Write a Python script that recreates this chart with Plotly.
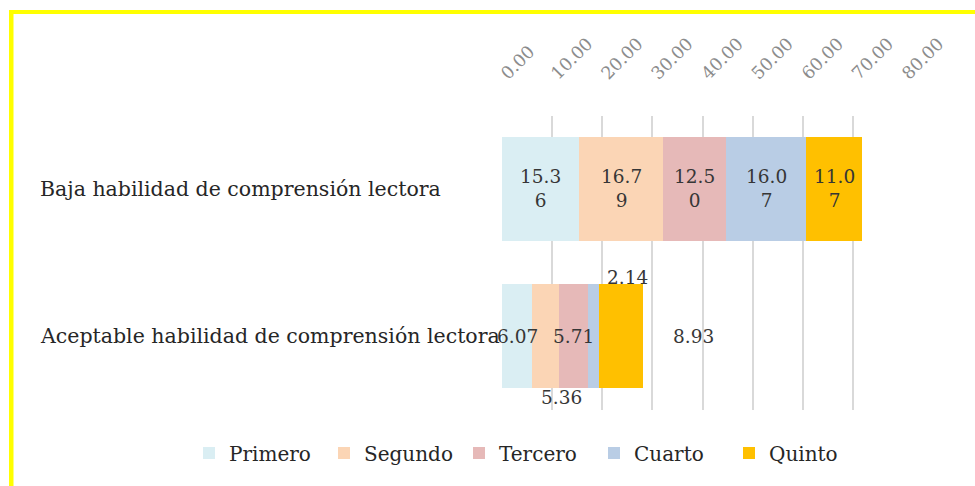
import plotly.graph_objects as go

# Data
categories = ["Baja habilidad de comprensión lectora",
              "Aceptable habilidad de comprensión lectora"]
series_names = ["Primero", "Segundo", "Tercero", "Cuarto", "Quinto"]
primero = [15.36, 6.07]
segundo = [16.79, 5.36]
tercero = [12.50, 5.71]
cuarto = [16.07, 2.14]
quinto = [11.07, 8.93]
tick_values = [0, 10, 20, 30, 40, 50, 60, 70, 80]

series_values = [primero, segundo, tercero, cuarto, quinto]
colors = ["#DAEEF3", "#FBD5B5", "#E6B9B8", "#B9CDE5", "#FFC000"]

FONT = "DejaVu Serif"
W, H = 975, 486

fig = go.Figure()
for name, vals, col in zip(series_names, series_values, colors):
    fig.add_trace(go.Bar(
        y=categories, x=vals, name=name, orientation="h",
        marker=dict(color=col, line=dict(width=0)),
        hoverinfo="x+name",
    ))

# Value labels: the wide bar gets wrapped labels centered in each segment,
# the narrow bar has some labels pushed around so they do not collide.
label_offsets = {  # (category index, series index): (xshift, yshift)
    (1, 1): (16, -61),
    (1, 3): (34, 59),
    (1, 4): (72, 0),
}
annotations = []
for ci, cat in enumerate(categories):
    start = 0.0
    for si, vals in enumerate(series_values):
        v = vals[ci]
        txt = f"{v:.2f}"
        if ci == 0:
            txt = txt[:4] + "<br>" + txt[4:]
        dx, dy = label_offsets.get((ci, si), (0, 0))
        annotations.append(dict(
            x=start + v / 2, y=cat, xref="x", yref="y",
            text=txt, showarrow=False, xshift=dx, yshift=dy,
            font=dict(family=FONT, size=18.5, color="#363636"),
            align="center",
        ))
        start += v

# Category labels, left aligned
for cat in categories:
    annotations.append(dict(
        x=38 / W, y=cat, xref="paper", yref="y", xanchor="left",
        text=cat, showarrow=False,
        font=dict(family=FONT, size=20.5, color="#262626"),
    ))

# Yellow frame (top and left edges)
shapes = [
    dict(type="rect", xref="paper", yref="paper",
         x0=9 / W, x1=1.0, y0=1 - 14 / H, y1=1 - 10 / H,
         fillcolor="#FFFF00", line=dict(width=0)),
    dict(type="rect", xref="paper", yref="paper",
         x0=9 / W, x1=13.5 / W, y0=0, y1=1 - 10 / H,
         fillcolor="#FFFF00", line=dict(width=0)),
]

fig.update_layout(
    width=W, height=H,
    margin=dict(l=0, r=0, t=0, b=0, autoexpand=False),
    paper_bgcolor="white", plot_bgcolor="white",
    barmode="stack", bargap=0.29,
    font=dict(family=FONT, size=16, color="#404040"),
    xaxis=dict(
        domain=[502 / W, 903 / W], range=[0, 80], side="top",
        tickvals=tick_values, tickformat=".2f", tickangle=-45,
        tickfont=dict(family=FONT, size=17.5, color="#8c8c8c"),
        ticklabelstandoff=28,
        showgrid=True, gridcolor="#D9D9D9", gridwidth=1.5,
        zeroline=False, showline=False, ticks="", automargin=False,
    ),
    yaxis=dict(
        domain=[(H - 409.5) / H, (H - 115.5) / H],
        autorange="reversed", showticklabels=False,
        showgrid=False, zeroline=False, showline=False, automargin=False,
    ),
    legend=dict(
        orientation="h", x=189 / W, xanchor="left", y=33 / H, yanchor="middle",
        font=dict(family=FONT, size=20, color="#262626"),
        traceorder="normal", itemwidth=30,
        entrywidth=90, entrywidthmode="pixels",
    ),
    annotations=annotations, shapes=shapes,
)

fig.write_html("out.html")
